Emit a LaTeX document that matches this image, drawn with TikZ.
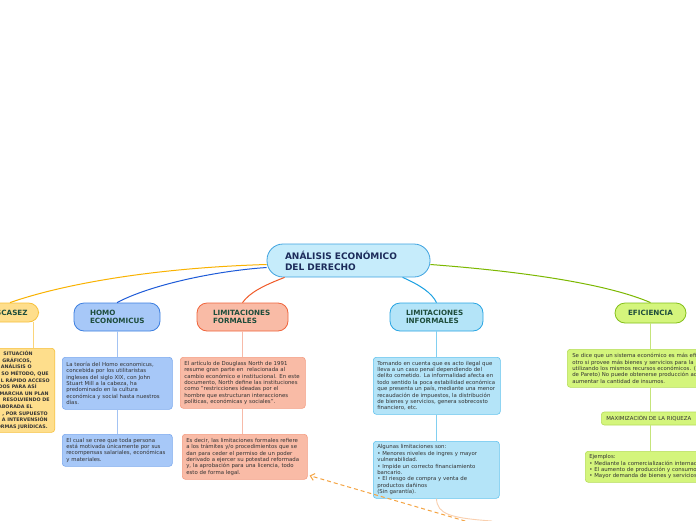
\documentclass[tikz,border=0pt]{standalone}
\usepackage{fontspec}
\setmainfont{DejaVu Sans}
\usetikzlibrary{arrows.meta}
\definecolor{rootfill}{HTML}{C6ECFB}
\definecolor{rootdraw}{HTML}{3FA3E0}
\definecolor{roottext}{HTML}{1C2B5A}
\definecolor{headtext}{HTML}{1E4D3C}
\definecolor{bodytext}{HTML}{333333}
\definecolor{yfill}{HTML}{FEDE8C}
\definecolor{ydraw}{HTML}{F7C13B}
\definecolor{yline}{HTML}{F9B200}
\definecolor{ylight}{HTML}{FBD57A}
\definecolor{bfill}{HTML}{A7C8F8}
\definecolor{bdraw}{HTML}{3D7FE0}
\definecolor{bline}{HTML}{1E5BD8}
\definecolor{blight}{HTML}{7CA9EE}
\definecolor{sfill}{HTML}{F9BBA6}
\definecolor{sdraw}{HTML}{F0653C}
\definecolor{sline}{HTML}{F05A28}
\definecolor{slight}{HTML}{F49D82}
\definecolor{cfill}{HTML}{B4E4F8}
\definecolor{cdraw}{HTML}{29A5E3}
\definecolor{cline}{HTML}{1BA1E2}
\definecolor{clight}{HTML}{62C3EE}
\definecolor{gfill}{HTML}{D4F57C}
\definecolor{gdraw}{HTML}{84C01A}
\definecolor{gline}{HTML}{7CB800}
\definecolor{glight}{HTML}{B6DD5A}
\definecolor{dashor}{HTML}{F5A442}
\definecolor{peach}{HTML}{F9CFAE}
\begin{document}
\begin{tikzpicture}[x=1pt,y=-1pt,
  rootbox/.style={draw=rootdraw,fill=rootfill,line width=0.8pt,rounded corners=16pt,
    font=\fontsize{9}{11}\selectfont\bfseries,text=roottext,align=left,
    text width=127pt,inner xsep=18pt,minimum height=33pt},
  headbox/.style={line width=0.8pt,rounded corners=10pt,
    font=\fontsize{7.2}{8.6}\selectfont\bfseries,text=headtext,align=left,inner xsep=16pt,minimum height=28pt},
  bodybox/.style={line width=0.6pt,rounded corners=3pt,
    font=\fontsize{5.4}{6.4}\selectfont,text=bodytext,align=left,inner xsep=4pt,inner ysep=3pt,anchor=north west},
  branch/.style={line width=1pt},
  vline/.style={line width=0.9pt}
]
\path[use as bounding box] (0,0) rectangle (696,520);
\clip (0,0) rectangle (696,520);
\fill[white] (0,0) rectangle (696,520);

% root
\node[rootbox] (root) at (348.5,260.5) {ANÁLISIS ECONÓMICO\\DEL DERECHO};

% headings
\node[headbox,draw=ydraw,fill=yfill,text width=78pt,align=right,inner xsep=11pt,minimum height=19pt,anchor=east] (escasez) at (39,312.5) {ESCASEZ};
\node[headbox,draw=bdraw,fill=bfill,text width=54pt] (homo) at (117,317) {HOMO\\ECONOMICUS};
\node[headbox,draw=sdraw,fill=sfill,text width=59pt] (formales) at (242.5,317) {LIMITACIONES\\FORMALES};
\node[headbox,draw=cdraw,fill=cfill,text width=61pt] (informales) at (436.5,317) {LIMITACIONES\\INFORMALES};
\node[headbox,draw=gdraw,fill=gfill,align=center,inner xsep=4pt,minimum width=71pt,minimum height=20pt] (efic) at (650.5,313) {EFICIENCIA};

% bodies
\node[bodybox,draw=ydraw,fill=yfill,anchor=north east,align=right,inner xsep=5pt,minimum height=82pt,
  font=\fontsize{4.8}{6.6}\selectfont\bfseries] (escbody) at (55,348) {%
SITUACIÓN\kern17pt\\
GRÁFICOS,\kern18pt\\
ANÁLISIS O\kern18pt\\
SO MÉTODO, QUE\kern1pt\\
L RÁPIDO ACCESO\\
DOS PARA ASÍ\kern13pt\\
MARCHA UN PLAN\kern1pt\\
RESOLVIENDO DE\\
LABORADA EL\kern17pt\\
, POR SUPUESTO\kern2pt\\
A INTERVENSIÓN\kern2pt\\
ORMAS JURÍDICAS.\kern2pt};

\node[bodybox,draw=blight,fill=bfill,text width=102pt,minimum height=52pt] (homo1) at (62,357) {%
\mbox{La teoría del Homo economicus,}\\
\mbox{concebida por los utilitaristas}\\
\mbox{ingleses del siglo XIX, con John}\\
\mbox{Stuart Mill a la cabeza, ha}\\
\mbox{predominado en la cultura}\\
\mbox{económica y social hasta nuestros}\\
días.};
\node[bodybox,draw=blight,fill=bfill,text width=102pt,minimum height=32pt] (homo2) at (62,434) {%
\mbox{El cual se cree que toda persona}\\
\mbox{está motivada únicamente por sus}\\
\mbox{recompensas salariales, económicas}\\
y materiales.};

\node[bodybox,draw=slight,fill=sfill,text width=117pt,minimum height=51pt] (form1) at (180,357) {%
\mbox{El artículo de Douglass North de 1991}\\
\mbox{resume gran parte en\ \ relacionada al}\\
\mbox{cambio económico e institucional. En este}\\
\mbox{documento, North define las instituciones}\\
\mbox{como "restricciones ideadas por el}\\
\mbox{hombre que estructuran interacciones}\\
\mbox{políticas, económicas y sociales".}};
\node[bodybox,draw=slight,fill=sfill,text width=117pt,minimum height=45pt] (form2) at (182,434) {%
\mbox{Es decir, las limitaciones formales refiere}\\
\mbox{a los trámites y/o procedimientos que se}\\
\mbox{dan para ceder el permiso de un poder}\\
\mbox{derivado a ejercer su potestad reformada}\\
\mbox{y, la aprobación para una licencia, todo}\\
\mbox{esto de forma legal.}};

\node[bodybox,draw=clight,fill=cfill,text width=119pt,minimum height=57pt] (inf1) at (373,357) {%
\mbox{Tomando en cuenta que es acto ilegal que}\\
\mbox{lleva a un caso penal dependiendo del}\\
\mbox{delito cometido. La informalidad afecta en}\\
\mbox{todo sentido la poca estabilidad económica}\\
\mbox{que presenta un país, mediante una menor}\\
\mbox{recaudación de impuestos, la distribución}\\
\mbox{de bienes y servicios, genera sobrecosto}\\
\mbox{financiero, etc.}};
\node[bodybox,draw=clight,fill=cfill,text width=118pt,minimum height=57pt] (inf2) at (373,441) {%
\mbox{Algunas limitaciones son:}\\
\mbox{• Menores niveles de ingres y mayor}\\
\mbox{vulnerabilidad.}\\
\mbox{• Impide un correcto financiamiento}\\
\mbox{bancario.}\\
\mbox{• El riesgo de compra y venta de}\\
\mbox{productos dañinos}\\
\mbox{(Sin garantía).}};

\node[bodybox,draw=glight,fill=gfill,text width=170pt,inner xsep=5pt,minimum height=38pt] (efic1) at (567,349) {%
Se dice que un sistema económico es más eficiente que\\
otro si provee más bienes y servicios para la\\
utilizando los mismos recursos económicos. (Óptimo\\
de Pareto) No puede obtenerse producción adicional\\
aumentar la cantidad de insumos.};
\node[bodybox,draw=glight,fill=gfill,text width=100pt,inner xsep=5pt,inner ysep=1pt,minimum height=13pt,anchor=west,
  font=\fontsize{5.4}{6.4}\selectfont] (maxim) at (601,418.5) {MAXIMIZACIÓN DE LA RIQUEZA};
\node[bodybox,draw=glight,fill=gfill,text width=150pt,minimum height=31pt] (ejem) at (585,451) {%
Ejemplos:\\
• Mediante la comercialización internacional\\
• El aumento de producción y consumo\\
• Mayor demanda de bienes y servicios};

% branches from root
\draw[branch,yline] ([yshift=-4pt]root.west) .. controls (150,268) and (60,285) .. ([xshift=-29pt]escasez.north east);
\draw[branch,bline] ([yshift=-7pt]root.west) .. controls (215,271) and (150,285) .. (homo.north);
\draw[branch,sline] ([xshift=18pt]root.south west) .. controls (265,285) and (250,292) .. (formales.north);
\draw[branch,cline] ([xshift=136pt]root.south west) .. controls (420,285) and (432,293) .. (informales.north);
\draw[branch,gline] ([yshift=-4pt]root.east) .. controls (530,272) and (610,285) .. (efic.north);

% vertical connectors
\coordinate (escdrop) at ([xshift=-6pt]escasez.south east);
\draw[vline,ylight] (escdrop) -- (escdrop |- escbody.north);
\draw[vline,blight!70!white] (homo.south) -- (homo.south |- homo1.north);
\draw[vline,blight!70!white] (homo1.south -| homo.south) -- (homo2.north -| homo.south);
\draw[vline,slight!70!white] (formales.south) -- (formales.south |- form1.north);
\draw[vline,slight!70!white] (form1.south -| formales.south) -- (form2.north -| formales.south);
\draw[vline,clight!80!white] (informales.south) -- (informales.south |- inf1.north);
\draw[vline,clight!80!white] (inf1.south -| informales.south) -- (inf2.north -| informales.south);
\draw[vline,glight!80!white] (efic.south) -- (efic.south |- efic1.north);
\draw[vline,glight!80!white] (efic1.south -| efic.south) -- (maxim.north -| efic.south);
\draw[vline,glight!80!white] (maxim.south -| efic.south) -- (ejem.north -| efic.south);

% trailing peach curve
\coordinate (peachend) at (492,521);
\draw[line width=0.9pt,peach] (inf2.south -| informales.south) .. controls (437,514) and (450,518) .. (peachend);

% dashed arrow
\coordinate (dstart) at (472,523);
\draw[line width=1pt,dashor,dash pattern=on 4pt off 3pt,-{Straight Barb[length=4pt,width=7pt]}] (dstart) -- ([xshift=2pt,yshift=4pt]form2.south east);
\end{tikzpicture}
\end{document}
